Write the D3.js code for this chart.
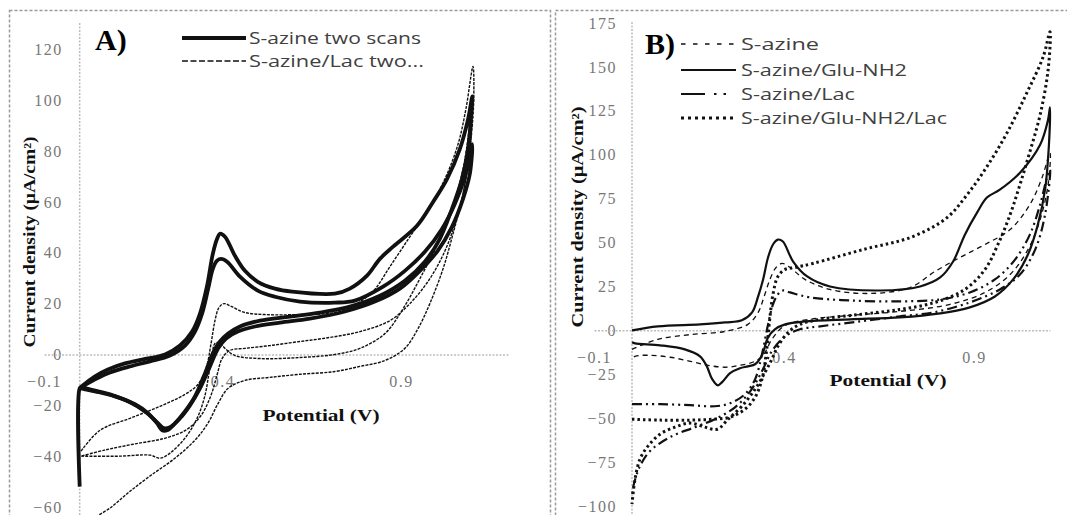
<!DOCTYPE html>
<html lang="en">
<head>
<meta charset="utf-8">
<title>Cyclic voltammograms of S-azine films</title>
<script src="https://cdn.jsdelivr.net/npm/d3@7"></script>
<style>
  body { margin: 0; background: #fff; }
  svg { display: block; }
  .tick-label { font-family: "Liberation Serif", serif; font-size: 16px; fill: #777; letter-spacing: 1.5px; }
  .axis-title { font-family: "Liberation Serif", serif; font-weight: bold; font-size: 16px; fill: #111; }
  .legend-text { font-family: "Open Sans", sans-serif; font-size: 17px; fill: #404040; }
  .panel-label { font-family: "Liberation Serif", serif; font-weight: bold; font-size: 30px; fill: #000; }
</style>
</head>
<body>
<script>
var w = 1067, h = 515;

// ---- Panel A : potential (V), current density (uA/cm2) ----
var xTicksA = [-0.1, 0.4, 0.9];
var yTicksA = [-60, -40, -20, 0, 20, 40, 60, 80, 100, 120];
var legendA = ["S-azine two scans", "S-azine/Lac two..."];

// S-azine, first scan (forward then reverse)
var sazineScan1 = [[0.000,-52],[0.000,-13.3],[0.006,-12.5],[0.043,-8.6],[0.079,-5.9],[0.127,-3.5],[0.175,-2.0],[0.239,0],
  [0.281,3.5],[0.315,9.0],[0.337,16.1],[0.357,27.1],[0.373,39.6],[0.385,45.5],[0.393,47.5],[0.407,46.3],[0.435,38.8],
  [0.463,32.9],[0.499,28.6],[0.547,25.9],[0.595,24.7],[0.715,23.9],[0.757,25.9],[0.805,31.0],[0.841,37.6],[0.878,42.4],
  [0.945,50.6],[0.990,60.0],[1.029,69.0],[1.065,80.8],[1.088,92.5],[1.100,101.5],
  [1.096,92.5],[1.088,80.8],[1.071,69.0],[1.043,57.3],[1.009,45.5],[0.967,36.5],[0.911,29.0],[0.841,23.1],[0.757,18.8],
  [0.673,16.5],[0.589,14.9],[0.505,13.3],[0.449,11.0],[0.416,8.2],[0.393,5.1],[0.373,0.4],[0.351,-7.5],[0.323,-16.5],
  [0.295,-22.4],[0.267,-27.1],[0.245,-29.8],[0.231,-29.8],[0.217,-27.1],[0.191,-23.1],[0.155,-19.6],[0.099,-16.5],
  [0.043,-14.5],[0.004,-13.3]];

// S-azine, second scan
var sazineScan2 = [[0.004,-12.9],[0.043,-9.8],[0.085,-7.1],[0.141,-4.7],[0.197,-2.7],[0.253,-0.4],[0.295,3.5],[0.323,9.0],
  [0.343,16.1],[0.360,25.9],[0.373,33.7],[0.385,36.9],[0.396,37.6],[0.413,36.5],[0.449,30.6],[0.499,25.1],[0.547,22.7],
  [0.617,20.8],[0.715,20.4],[0.771,21.2],[0.850,26.7],[0.911,32.9],[0.967,40.4],[1.015,49.4],[1.051,59.2],[1.079,69.8],
  [1.096,80.8],[1.100,82.7],
  [1.093,71.0],[1.074,61.2],[1.043,50.2],[1.003,40.8],[0.953,32.9],[0.897,25.9],[0.827,20.8],[0.743,16.9],[0.645,14.1],
  [0.561,12.5],[0.491,11.0],[0.443,9.0],[0.410,6.3],[0.388,2.4],[0.365,-4.7],[0.337,-13.3],[0.309,-20.0],[0.281,-25.1],
  [0.253,-28.6],[0.236,-29.0],[0.217,-26.7],[0.183,-22.4],[0.141,-18.8],[0.085,-15.7],[0.029,-13.7],[0.004,-12.9]];

// S-azine/Lac, first scan
var lacScan1 = [[0.004,-38.0],[0.057,-29.8],[0.141,-25.1],[0.225,-20.4],[0.295,-15.7],[0.331,-11.8],[0.354,-5.5],
  [0.368,4.3],[0.379,13.3],[0.390,18.4],[0.404,20.0],[0.426,18.8],[0.463,16.5],[0.519,15.7],[0.617,15.7],[0.715,16.5],
  [0.771,19.6],[0.821,24.7],[0.869,34.5],[0.925,46.3],[0.973,56.1],[1.023,69.0],[1.060,82.7],[1.082,96.5],[1.102,113.3],
  [1.104,100.4],[1.099,88.6],[1.088,74.9],[1.071,61.2],[1.046,47.5],[1.018,33.7],[0.981,20.0],[0.948,10.2],[0.911,2.4],
  [0.855,-2.4],[0.785,-4.7],[0.715,-6.7],[0.617,-7.8],[0.533,-9.0],[0.463,-10.2],[0.416,-13.3],[0.388,-19.2],
  [0.359,-27.1],[0.323,-33.7],[0.267,-40.8],[0.197,-47.8],[0.135,-54.5],[0.085,-60.4],[0.043,-64]];

// S-azine/Lac, second scan
var lacScan2 = [[0.004,-40.0],[0.113,-40.0],[0.197,-39.6],[0.225,-40.8],[0.253,-38.8],[0.295,-32.9],[0.329,-25.1],
  [0.351,-16.1],[0.362,-7.5],[0.371,0.4],[0.379,4.3],[0.390,4.7],[0.407,2.4],[0.435,-0.4],[0.505,-1.6],[0.617,-1.2],
  [0.715,0],[0.785,2.4],[0.855,8.2],[0.906,18.0],[0.953,29.8],[1.003,43.5],[1.043,57.3],[1.074,72.9],[1.093,90.6],
  [1.099,98.4],
  [1.096,84.7],[1.082,69.0],[1.060,55.3],[1.026,41.6],[0.981,29.8],[0.925,20.0],[0.869,13.3],[0.785,9.0],[0.701,6.7],
  [0.617,5.1],[0.533,3.5],[0.463,2.4],[0.421,1.6],[0.399,-1.6],[0.385,-8.0],[0.368,-16.0],[0.340,-24.0],[0.300,-29.5],
  [0.240,-32.9],[0.150,-35.3],[0.070,-37.6],[0.004,-40.0]];

// ---- Panel B ----
var xTicksB = [-0.1, 0.4, 0.9];
var yTicksB = [-100, -75, -50, -25, 0, 25, 50, 75, 100, 125, 150, 175];
var legendB = ["S-azine", "S-azine/Glu-NH2", "S-azine/Lac", "S-azine/Glu-NH2/Lac"];

var sazine = [[0,-10.8],[0.068,-5.1],[0.158,-2.3],[0.245,-0.6],[0.305,3.4],[0.332,10.2],[0.347,18.8],[0.363,29.0],
  [0.379,35.8],[0.395,38.1],[0.416,35.8],[0.455,29.0],[0.521,23.3],[0.626,21.0],[0.732,24.4],[0.797,33.5],[0.863,41.5],
  [0.929,48.9],[0.995,57.4],[1.047,71.6],[1.079,86.9],[1.100,101],
  [1.095,83.0],[1.074,63.1],[1.042,46.0],[0.995,31.8],[0.929,21.6],[0.837,14.8],[0.705,10.8],[0.574,8.5],[0.468,6.3],
  [0.403,2.8],[0.368,-5.1],[0.347,-13.6],[0.324,-17.6],[0.284,-19.9],[0.245,-21.0],[0.200,-19.9],[0.153,-17.6],
  [0.100,-15.3],[0.047,-14.2],[0.008,-14.8],[0,-16.5]];

var sazineGlu = [[0,0],[0.068,2.3],[0.179,3.4],[0.245,4.5],[0.289,5.7],[0.316,10.2],[0.332,19.3],[0.345,29.0],
  [0.358,41.5],[0.371,48.9],[0.384,51.7],[0.397,50.6],[0.424,39.2],[0.461,30.7],[0.521,25.0],[0.653,22.7],[0.758,25.0],
  [0.811,30.1],[0.845,39.2],[0.876,54.5],[0.908,67.0],[0.934,75.6],[0.968,80.1],[1.021,89.8],[1.074,105.7],[1.095,120],
  [1.100,127],
  [1.097,105],[1.087,80.1],[1.068,60.2],[1.042,43.2],[1.003,29.0],[0.955,19.3],[0.889,13.1],[0.811,9.7],[0.705,7.4],
  [0.574,6.3],[0.455,5.1],[0.403,3.4],[0.376,0.6],[0.358,-4.0],[0.342,-14.2],[0.324,-19.3],[0.305,-20.5],[0.284,-21.6],
  [0.258,-24.4],[0.237,-29.5],[0.226,-31.3],[0.211,-27.8],[0.197,-20.5],[0.179,-14.8],[0.139,-10.8],[0.074,-8.5],
  [0.008,-7.4],[0,-6.8]];

var sazineLac = [[0,-42.0],[0.074,-42.0],[0.153,-42.6],[0.218,-43.2],[0.258,-41.5],[0.297,-36.4],[0.324,-27.8],
  [0.342,-13.6],[0.358,3.4],[0.371,14.8],[0.384,20.5],[0.397,22.7],[0.416,21.6],[0.468,18.8],[0.574,17.0],[0.705,16.5],
  [0.811,17.6],[0.889,21.6],[0.955,29.0],[1.008,40.3],[1.047,54.5],[1.074,71.6],[1.092,86.9],[1.100,91.5],
  [1.087,65.9],[1.061,46.0],[1.021,31.8],[0.968,23.3],[0.889,15.9],[0.792,10.2],[0.705,8.0],[0.600,5.1],[0.495,2.3],
  [0.442,0.6],[0.403,-3.4],[0.368,-11.9],[0.342,-23.3],[0.311,-34.7],[0.271,-43.8],[0.218,-50.6],[0.166,-55.1],
  [0.100,-60.8],[0.047,-68.8],[0.021,-77.3],[0.005,-87.5],[0,-94.3]];

var sazineGluLac = [[0,-50.6],[0.074,-51.1],[0.153,-51.1],[0.211,-50.6],[0.258,-49.4],[0.297,-44.9],[0.324,-38.1],
  [0.342,-27.8],[0.353,-13.6],[0.361,3.4],[0.371,20.5],[0.384,30.7],[0.403,34.7],[0.429,35.8],[0.476,38.1],[0.608,46.0],
  [0.739,53.4],[0.829,64.2],[0.882,77.3],[0.934,93.2],[0.987,112.5],[1.039,135.2],[1.082,155.7],[1.100,170],
  [1.095,148.3],[1.074,122.7],[1.047,101.7],[1.021,83.0],[0.995,65.9],[0.963,48.9],[0.929,34.7],[0.876,23.3],
  [0.797,15.9],[0.705,11.9],[0.600,9.1],[0.495,6.3],[0.442,3.4],[0.411,-1.1],[0.384,-9.1],[0.368,-16.5],[0.350,-23.9],
  [0.324,-33.5],[0.289,-43.2],[0.253,-50.6],[0.224,-56.3],[0.192,-55.1],[0.153,-52.8],[0.113,-55.1],[0.074,-59.1],
  [0.042,-65.9],[0.021,-73.3],[0.008,-84.7],[0,-98.9]];

// line looks
var styles = {
  thick:   { width: 3.8, dash: null },
  thin:    { width: 1.4, dash: "3,1.2" },
  dashed:  { width: 1.3, dash: "5,4" },
  solid:   { width: 2.2, dash: null },
  dashdot: { width: 2.2, dash: "10,4,2,4,2,4" },
  dotted:  { width: 3,   dash: "2.5,3" }
};

var svg = d3.select("body").append("svg").attr("width", w).attr("height", h);

// panel frames
svg.append("rect").attr("x", 9.5).attr("y", 10.5).attr("width", 541).attr("height", 540)
  .attr("fill", "none").attr("stroke", "#9a9a9a").attr("stroke-width", 1.5).attr("stroke-dasharray", "3,2");
svg.append("rect").attr("x", 555.5).attr("y", 10.5).attr("width", 540).attr("height", 540)
  .attr("fill", "none").attr("stroke", "#9a9a9a").attr("stroke-width", 1.5).attr("stroke-dasharray", "3,2");

function drawPanel(p) {
  var g = svg.append("g");

  // y axis labels (the axis line itself is drawn separately below)
  g.append("g")
    .attr("transform", "translate(" + p.x(0) + ",0)")
    .call(d3.axisLeft(p.y).tickValues(p.yTicks).tickSize(0).tickPadding(p.yPad).tickFormat(d3.format("d")))
    .call(function(a) { a.select(".domain").remove(); })
    .selectAll("text").attr("class", "tick-label").attr("font-family", null).attr("font-size", null);

  g.append("line")
    .attr("x1", p.x(0)).attr("x2", p.x(0)).attr("y1", p.y.range()[1] - 1).attr("y2", h)
    .attr("stroke", "#bdbdbd").attr("stroke-width", 1.5).attr("stroke-dasharray", "2,1.5");

  // x axis along zero current
  var xa = g.append("g")
    .attr("transform", "translate(0," + p.y(0) + ")")
    .call(d3.axisBottom(p.x).tickValues(p.xTicks).tickSize(0).tickPadding(21).tickSizeOuter(0));
  xa.select(".domain").attr("stroke", "#bdbdbd").attr("stroke-width", 1.5).attr("stroke-dasharray", "2,1.5");
  xa.selectAll("text").attr("class", "tick-label").attr("font-family", null).attr("font-size", null);

  var line = d3.line()
    .x(function(d) { return p.x(d[0]); })
    .y(function(d) { return p.y(d[1]); })
    .curve(d3.curveCatmullRom.alpha(0.5));

  p.series.forEach(function(s) {
    var st = styles[s.style];
    g.append("path")
      .attr("d", line(s.points))
      .attr("fill", "none")
      .attr("stroke", "#111")
      .attr("stroke-width", st.width)
      .attr("stroke-linejoin", "round")
      .attr("stroke-dasharray", st.dash);
  });

  // axis titles
  g.append("text").attr("class", "axis-title")
    .attr("transform", "translate(" + p.yTitle[0] + "," + p.yTitle[1] + ") rotate(-90)")
    .attr("text-anchor", "middle").attr("dy", "0.35em")
    .attr("textLength", p.yTitle[2]).attr("lengthAdjust", "spacingAndGlyphs")
    .text("Current density (μA/cm²)");
  g.append("text").attr("class", "axis-title")
    .attr("x", p.xTitle[0]).attr("y", p.xTitle[1]).attr("text-anchor", "middle")
    .attr("textLength", 117).attr("lengthAdjust", "spacingAndGlyphs")
    .text("Potential (V)");

  g.append("text").attr("class", "panel-label")
    .attr("x", p.label[1]).attr("y", p.label[2]).text(p.label[0]);

  // legend
  var leg = g.selectAll(".leg").data(p.legend).enter().append("g");
  leg.append("line")
    .attr("x1", p.legX[0]).attr("x2", p.legX[1])
    .attr("y1", function(d, i) { return p.legY[i]; })
    .attr("y2", function(d, i) { return p.legY[i]; })
    .attr("stroke", "#111")
    .attr("stroke-width", function(d, i) { return styles[p.legStyle[i]].width; })
    .attr("stroke-dasharray", function(d, i) { return p.legDash[i] || styles[p.legStyle[i]].dash; });
  leg.append("text").attr("class", "legend-text")
    .attr("x", p.legX[2])
    .attr("y", function(d, i) { return p.legY[i]; })
    .attr("dy", "0.35em")
    .attr("textLength", function(d, i) { return p.legW[i]; })
    .attr("lengthAdjust", "spacingAndGlyphs")
    .text(function(d) { return d; });
}

drawPanel({
  x: d3.scaleLinear().domain([-0.1, 1.2]).range([44, 508]),
  y: d3.scaleLinear().domain([-60, 130]).range([507, 24]),
  xTicks: xTicksA, yTicks: yTicksA, yPad: 17,
  series: [
    { points: lacScan1, style: "thin" },
    { points: lacScan2, style: "thin" },
    { points: sazineScan2, style: "thick" },
    { points: sazineScan1, style: "thick" }
  ],
  yTitle: [29, 242, 211], xTitle: [321, 421],
  label: ["A)", 95, 50],
  legend: legendA, legY: [38, 61], legX: [182, 246, 249], legW: [172, 175],
  legStyle: ["thick", "thin"], legDash: [null, "6,2.5"]
});

drawPanel({
  x: d3.scaleLinear().domain([-0.1, 1.1]).range([594, 1050]),
  y: d3.scaleLinear().domain([-100, 175]).range([506, 23]),
  xTicks: xTicksB, yTicks: yTicksB, yPad: 15,
  series: [
    { points: sazine, style: "dashed" },
    { points: sazineLac, style: "dashdot" },
    { points: sazineGluLac, style: "dotted" },
    { points: sazineGlu, style: "solid" }
  ],
  yTitle: [577, 217, 221], xTitle: [888, 386],
  label: ["B)", 645, 54],
  legend: legendB, legY: [44, 70, 94, 118], legX: [681, 736, 741], legW: [78, 166, 114, 206],
  legStyle: ["dashed", "solid", "dashdot", "dotted"], legDash: ["4.5,7.5", null, "24,9,2.5,7,2.5,30", "3,4"]
});
</script>
</body>
</html>
